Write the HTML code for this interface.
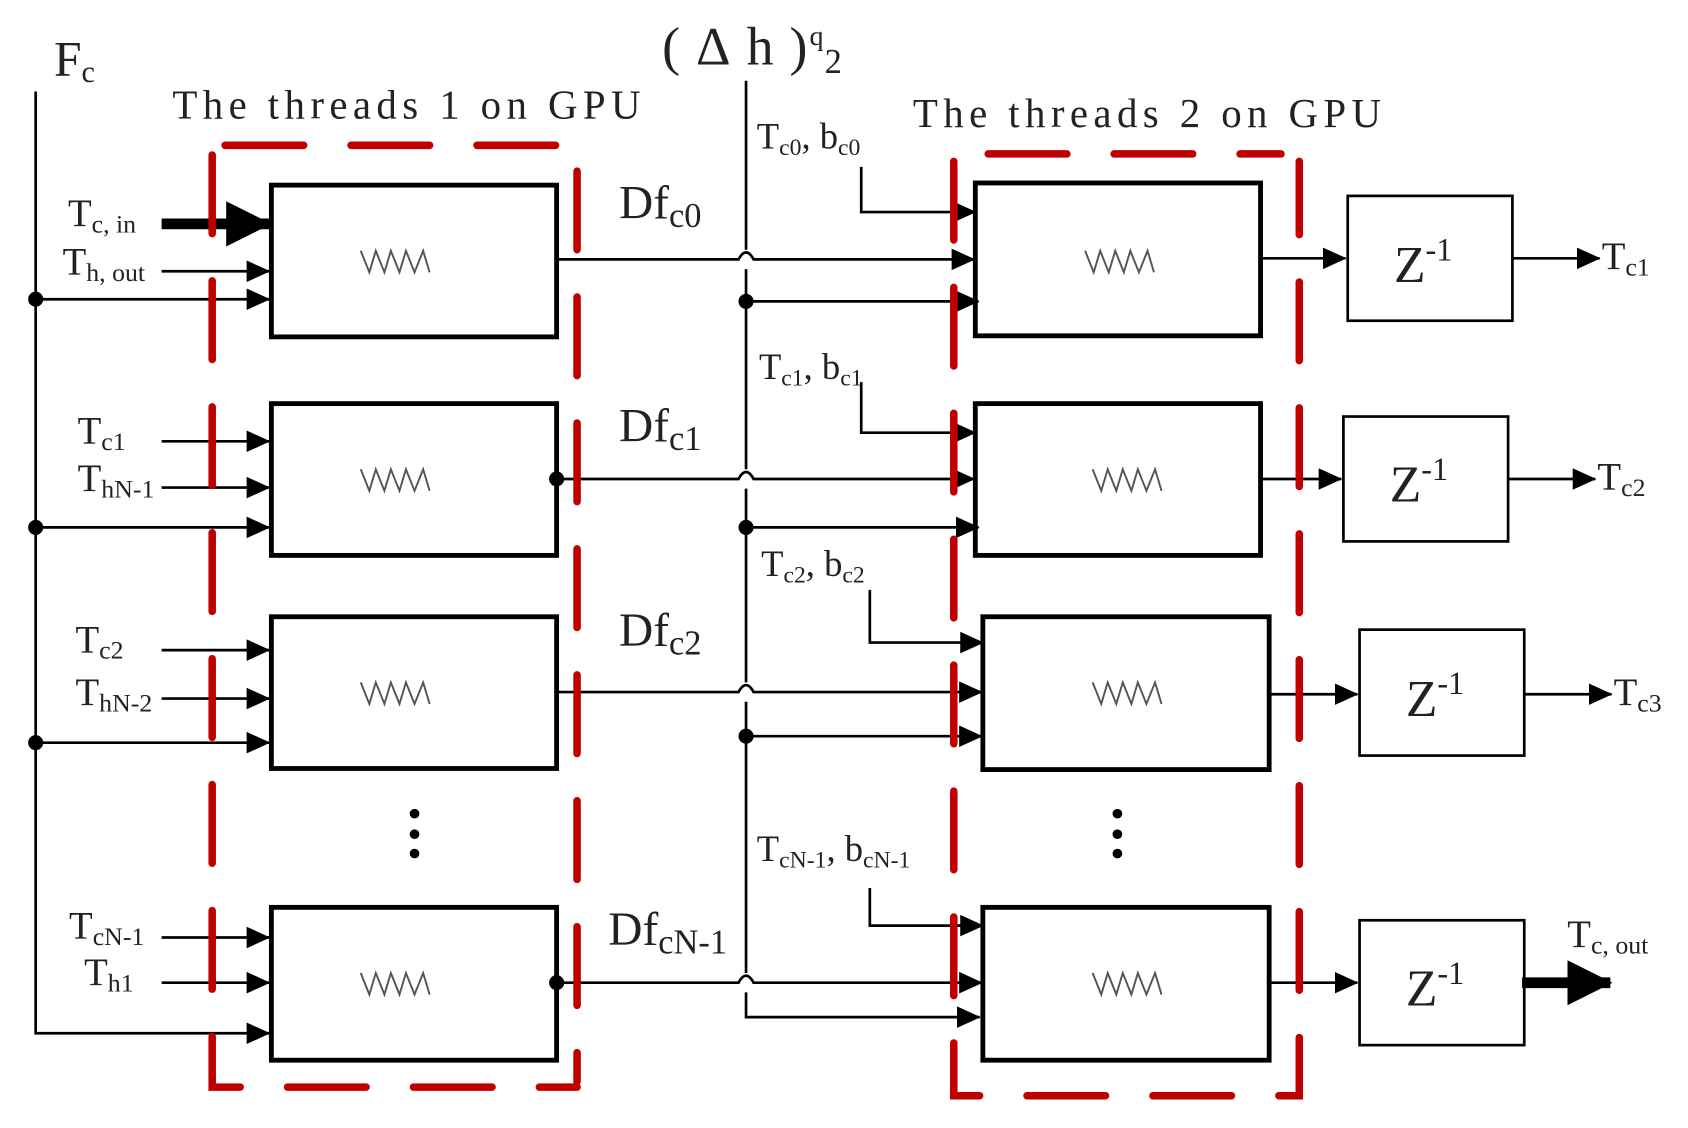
<!DOCTYPE html>
<html><head><meta charset="utf-8"><style>
html,body{margin:0;padding:0;background:#fff}
svg{display:block}
text{font-family:"Liberation Serif",serif;fill:#222}
</style></head><body>
<svg width="1688" height="1128" viewBox="0 0 1568 1048" xmlns="http://www.w3.org/2000/svg">
<defs>
<marker id="b" markerWidth="22" markerHeight="22" refX="21" refY="11" orient="auto" markerUnits="userSpaceOnUse"><path d="M0,1 L22,11 L0,21z" fill="#000"/></marker>
<marker id="big" markerWidth="42" markerHeight="42" refX="40" refY="21" orient="auto" markerUnits="userSpaceOnUse"><path d="M0,0 L42,21 L0,42z" fill="#000"/></marker>
</defs>
<style>.ln{stroke:#000;stroke-width:2.5;fill:none}</style>

<!-- top labels -->
<text x="50" y="70" font-size="46">F<tspan font-size="28" dy="6">c</tspan></text>
<text x="160" y="110" font-size="38" textLength="435" lengthAdjust="spacing">The threads 1 on GPU</text>
<text x="848" y="118" font-size="38" textLength="435" lengthAdjust="spacing">The threads 2 on GPU</text>
<text x="615" y="60" font-size="50" textLength="135" lengthAdjust="spacing">(Δh)</text>
<text x="752" y="42" font-size="26">q</text>
<text x="766" y="68" font-size="32">2</text>

<!-- Fc bus -->
<path d="M33,85 V960 H250" class="ln" marker-end="url(#b)"/>
<circle cx="33" cy="278" r="7"/><circle cx="33" cy="490" r="7"/><circle cx="33" cy="690" r="7"/>
<path d="M33,278 H250" class="ln" marker-end="url(#b)"/>
<path d="M33,490 H250" class="ln" marker-end="url(#b)"/>
<path d="M33,690 H250" class="ln" marker-end="url(#b)"/>

<!-- left inputs -->
<path d="M150,208 H250" stroke="#000" stroke-width="10" fill="none" marker-end="url(#big)"/>
<path d="M150,252 H250" class="ln" marker-end="url(#b)"/>
<path d="M150,410 H250" class="ln" marker-end="url(#b)"/>
<path d="M150,453 H250" class="ln" marker-end="url(#b)"/>
<path d="M150,604 H250" class="ln" marker-end="url(#b)"/>
<path d="M150,649 H250" class="ln" marker-end="url(#b)"/>
<path d="M150,871 H250" class="ln" marker-end="url(#b)"/>
<path d="M150,913 H250" class="ln" marker-end="url(#b)"/>
<g font-size="36">
<text x="63" y="210">T<tspan font-size="24" dy="6">c, in</tspan></text>
<text x="58" y="255">T<tspan font-size="24" dy="6">h, out</tspan></text>
<text x="72" y="412">T<tspan font-size="24" dy="6">c1</tspan></text>
<text x="72" y="456">T<tspan font-size="24" dy="6">hN-1</tspan></text>
<text x="70" y="606">T<tspan font-size="24" dy="6">c2</tspan></text>
<text x="70" y="655">T<tspan font-size="24" dy="6">hN-2</tspan></text>
<text x="64" y="872">T<tspan font-size="24" dy="6">cN-1</tspan></text>
<text x="78" y="915">T<tspan font-size="24" dy="6">h1</tspan></text>
</g>

<!-- boxes -->
<g fill="#fff" stroke="#000" stroke-width="4.5">
<rect x="252" y="172" width="265" height="141"/>
<rect x="252" y="375" width="265" height="141"/>
<rect x="252" y="573" width="265" height="141"/>
<rect x="252" y="843" width="265" height="142"/>
<rect x="906" y="170" width="265" height="142"/>
<rect x="906" y="375" width="265" height="141"/>
<rect x="913" y="573" width="266" height="142"/>
<rect x="913" y="843" width="266" height="142"/>
</g>
<g fill="#fff" stroke="#000" stroke-width="2.5">
<rect x="1252" y="182" width="153" height="116"/>
<rect x="1248" y="387" width="153" height="116"/>
<rect x="1263" y="585" width="153" height="117"/>
<rect x="1263" y="855" width="153" height="116"/>
</g>
<g stroke="#555" stroke-width="1.8" fill="none">
<path id="zz" d="M0,0 L8,20 L14,0 L22,20 L28,0 L36,20 L42,0 L50,20 L58,0 L64,20" transform="translate(335,233)"/>
<use href="#zz" transform="translate(0,203)"/>
<use href="#zz" transform="translate(0,401)"/>
<use href="#zz" transform="translate(0,671)"/>
<use href="#zz" transform="translate(673,0)"/>
<use href="#zz" transform="translate(680,203)"/>
<use href="#zz" transform="translate(680,401)"/>
<use href="#zz" transform="translate(680,671)"/>
</g>

<!-- center bus -->
<path d="M693,75 V232 M693,250 V436 M693,454 V634 M693,652 V904 M693,922 V945 H910" class="ln" marker-end="url(#b)"/>
<g class="ln">
<path d="M517,241 H686 Q693,228 700,241 H905" marker-end="url(#b)"/>
<path d="M517,445 H686 Q693,432 700,445 H905" marker-end="url(#b)"/>
<path d="M517,643 H686 Q693,630 700,643 H912" marker-end="url(#b)"/>
<path d="M517,913 H686 Q693,900 700,913 H912" marker-end="url(#b)"/>
<path d="M693,280 H909" marker-end="url(#b)"/>
<path d="M693,490 H909" marker-end="url(#b)"/>
<path d="M693,684 H912" marker-end="url(#b)"/>
<path d="M800,155 V197 H906" marker-end="url(#b)"/>
<path d="M800,355 V402 H906" marker-end="url(#b)"/>
<path d="M808,548 V597 H913" marker-end="url(#b)"/>
<path d="M808,825 V860 H913" marker-end="url(#b)"/>
</g>
<circle cx="693" cy="280" r="7"/><circle cx="693" cy="490" r="7"/><circle cx="693" cy="684" r="7"/>
<circle cx="517" cy="445" r="7"/><circle cx="517" cy="913" r="7"/>

<g font-size="44">
<text x="575" y="203">Df<tspan font-size="32" dy="8">c0</tspan></text>
<text x="575" y="410">Df<tspan font-size="32" dy="8">c1</tspan></text>
<text x="575" y="600">Df<tspan font-size="32" dy="8">c2</tspan></text>
<text x="565" y="878">Df<tspan font-size="32" dy="8">cN-1</tspan></text>
</g>
<g font-size="34">
<text x="703" y="138">T<tspan font-size="22" dy="6">c0</tspan><tspan dy="-6">, b</tspan><tspan font-size="22" dy="6">c0</tspan></text>
<text x="705" y="352">T<tspan font-size="22" dy="6">c1</tspan><tspan dy="-6">, b</tspan><tspan font-size="22" dy="6">c1</tspan></text>
<text x="707" y="535">T<tspan font-size="22" dy="6">c2</tspan><tspan dy="-6">, b</tspan><tspan font-size="22" dy="6">c2</tspan></text>
<text x="703" y="800">T<tspan font-size="22" dy="6">cN-1</tspan><tspan dy="-6">, b</tspan><tspan font-size="22" dy="6">cN-1</tspan></text>
</g>

<!-- right side arrows -->
<g class="ln">
<path d="M1171,240 H1250" marker-end="url(#b)"/>
<path d="M1171,445 H1246" marker-end="url(#b)"/>
<path d="M1179,645 H1261" marker-end="url(#b)"/>
<path d="M1179,913 H1261" marker-end="url(#b)"/>
<path d="M1405,240 H1486" marker-end="url(#b)"/>
<path d="M1401,445 H1482" marker-end="url(#b)"/>
<path d="M1416,645 H1497" marker-end="url(#b)"/>
</g>
<path d="M1414,913 H1496" stroke="#000" stroke-width="10" fill="none" marker-end="url(#big)"/>
<g font-size="48">
<text x="1295" y="262">Z<tspan font-size="30" dy="-20">-1</tspan></text>
<text x="1291" y="466">Z<tspan font-size="30" dy="-20">-1</tspan></text>
<text x="1306" y="665">Z<tspan font-size="30" dy="-20">-1</tspan></text>
<text x="1306" y="934">Z<tspan font-size="30" dy="-20">-1</tspan></text>
</g>
<g font-size="36">
<text x="1488" y="250">T<tspan font-size="24" dy="6">c1</tspan></text>
<text x="1484" y="455">T<tspan font-size="24" dy="6">c2</tspan></text>
<text x="1499" y="655">T<tspan font-size="24" dy="6">c3</tspan></text>
<text x="1456" y="880">T<tspan font-size="24" dy="6">c, out</tspan></text>
</g>

<g fill="#000">
<circle cx="385" cy="756" r="4.5"/><circle cx="385" cy="775" r="4.5"/><circle cx="385" cy="793" r="4.5"/>
<circle cx="1038" cy="756" r="4.5"/><circle cx="1038" cy="775" r="4.5"/><circle cx="1038" cy="793" r="4.5"/>
</g>

<!-- red dashed boxes -->
<g stroke="#c00000" stroke-width="7" fill="none" stroke-linecap="round" stroke-dasharray="73,44">
<path d="M209,135 H517"/>
<path d="M197,144 V1010 H536"/>
<path d="M536,159 V1005"/>
<path d="M918,143 H1190"/>
<path d="M886,150 V1018 H1207 V150"/>
</g>
</svg>
</body></html>
